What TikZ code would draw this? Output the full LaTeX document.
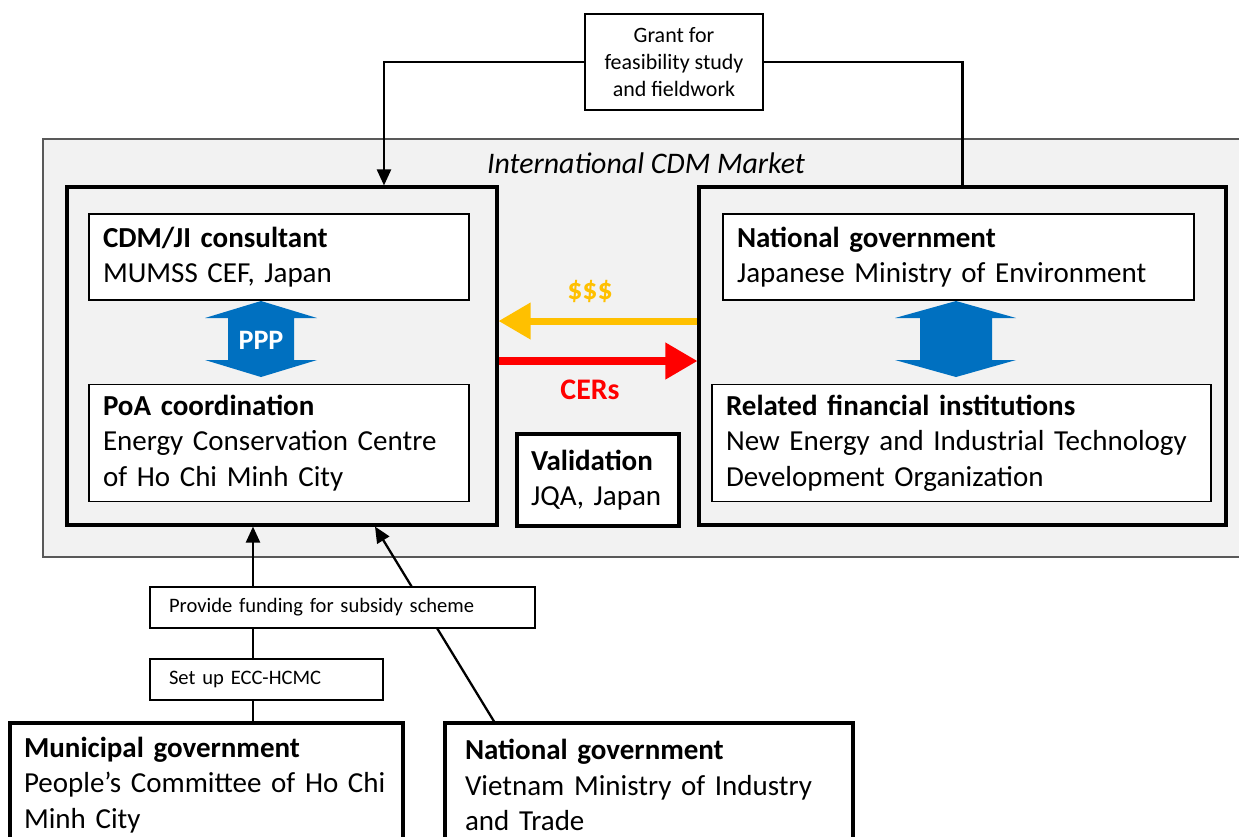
\documentclass[tikz,border=0pt]{standalone}
\usepackage{fontspec}
\setmainfont{Carlito}
\usetikzlibrary{arrows.meta}

\definecolor{pppblue}{HTML}{0070C0}
\definecolor{cashgold}{HTML}{FFC000}
\definecolor{marketgray}{HTML}{F2F2F2}
\definecolor{marketline}{HTML}{595959}

\tikzset{
  bigframe/.style={draw, line width=1.8pt, inner sep=0pt},
  infobox/.style={draw, line width=0.7pt, fill=white, align=left, inner xsep=0.28cm,
    inner ysep=0pt, font=\fontsize{16.5}{20.2}\selectfont},
  thickbox/.style={infobox, line width=1.8pt},
  tagbox/.style={draw, line width=0.7pt, fill=white, align=left, inner xsep=0.38cm,
    inner ysep=0pt, font=\fontsize{11.7}{15.4}\selectfont},
  flow/.style={line width=1.3pt, -{Triangle[length=0.32cm,width=0.28cm]}},
  fatflow/.style={line width=4pt, -{Triangle[length=0.64cm,width=0.7cm]}}
}

\begin{document}
\begin{tikzpicture}[x=0.02cm, y=-0.02cm]
    \useasboundingbox (0,0) rectangle (1239,836);
    \clip (0,0) rectangle (1239,836);

    % market background
    \draw[marketline, fill=marketgray, line width=0.8pt] (43,139) rectangle (1260,557);
    \node[font=\fontsize{17}{20}\selectfont\itshape] (market) at (646,163) {International CDM Market};

    % left side
    \node[bigframe, minimum width=8.6cm, minimum height=6.76cm] (leftbox) at (282,356) {};
    \node[infobox, text width=7.04cm, minimum height=1.72cm] (consult) at (279,257)
        {\textbf{CDM/JI consultant}\\MUMSS CEF, Japan};
    \node[infobox, text width=7.04cm, minimum height=2.34cm] (poa) at (279,443)
        {\textbf{PoA coordination}\\Energy Conservation Centre\\of Ho Chi Minh City};
    \fill[pppblue] (261,301) -- (317,318) -- (294,318) -- (294,360) -- (317,360)
        -- (261,377) -- (205,360) -- (228,360) -- (228,318) -- (205,318) -- cycle;
    \node[text=white, font=\fontsize{16}{19}\selectfont\bfseries] (ppp) at (261,340) {PPP};

    % right side
    \node[bigframe, minimum width=10.54cm, minimum height=6.76cm] (rightbox) at (962.5,356) {};
    \node[infobox, text width=8.86cm, minimum height=1.72cm] (natjp) at (958.5,257)
        {\textbf{National government}\\Japanese Ministry of Environment};
    \node[infobox, text width=9.42cm, minimum height=2.34cm] (finance) at (961.5,443)
        {\textbf{Related financial institutions}\\New Energy and Industrial Technology\\Development Organization};
    \fill[pppblue] (956,301) -- (1016,318) -- (992,318) -- (992,360) -- (1016,360)
        -- (956,377) -- (895,360) -- (920,360) -- (920,318) -- (895,318) -- cycle;

    \node[thickbox, text width=2.68cm, minimum height=1.84cm] (valid) at (598,480)
        {\textbf{Validation}\\JQA, Japan};

    % money and credits
    \draw[fatflow, cashgold] ([yshift=0.7cm]rightbox.west) -- ([yshift=0.7cm]leftbox.east);
    \draw[fatflow, red] ([yshift=-0.1cm]leftbox.east) -- ([yshift=-0.1cm]rightbox.west);
    \node[text=cashgold, font=\fontsize{17}{20}\selectfont\bfseries] (cash) at (590,291) {\$\$\$};
    \node[text=red, font=\fontsize{17}{20}\selectfont\bfseries] (cers) at (590,390) {CERs};

    % grant
    \node[tagbox, align=center, inner xsep=0pt, minimum width=3.56cm, minimum height=1.92cm,
          font=\fontsize{12.5}{15.4}\selectfont] (grant) at (674,62)
        {Grant for\\feasibility study\\and fieldwork};
    \draw[flow] (grant.west) -| ([xshift=2.04cm]leftbox.north);
    \draw[line width=1.3pt] (grant.east) -| (rightbox.north);

    % local actors
    \node[thickbox, text width=7.3cm, minimum height=2.48cm] (municipal) at (206.5,785)
        {\textbf{Municipal government}\\People's Committee of Ho Chi\\Minh City};
    \node[thickbox, inner xsep=0.4cm, text width=7.36cm, minimum height=2.48cm] (natvn) at (649,785)
        {\textbf{National government}\\Vietnam Ministry of Industry\\and Trade};
    \draw[flow] ([xshift=0.93cm]municipal.north) -- ([xshift=0.93cm]municipal.north |- leftbox.south);
    \draw[flow] ([xshift=-3.1cm]natvn.north) -- ([xshift=1.86cm]leftbox.south);
    \node[tagbox, text width=6.94cm, minimum height=0.82cm] (funding) at (342.5,607.5)
        {Provide funding for subsidy scheme};
    \node[tagbox, text width=3.9cm, minimum height=0.82cm] (setup) at (266.5,679.5)
        {Set up ECC-HCMC};
\end{tikzpicture}
\end{document}
